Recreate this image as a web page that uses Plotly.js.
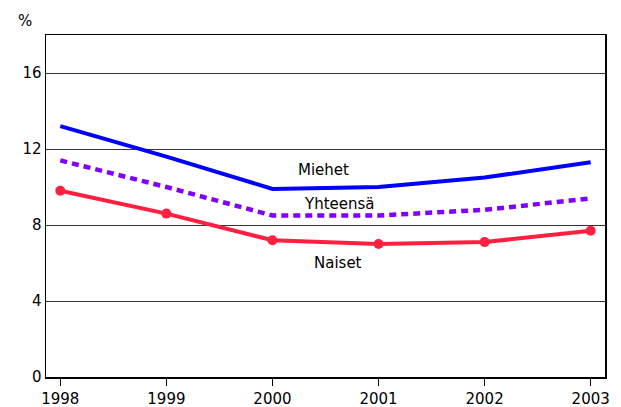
<!DOCTYPE html>
<html>
<head>
<meta charset="utf-8">
<script src="https://cdn.plot.ly/plotly-3.0.1.min.js"></script>
<style>html,body{margin:0;padding:0;background:#fff;}#chart{width:621px;height:407px;}</style>
</head>
<body>
<div id="chart"></div>
<script>
const years = [1998, 1999, 2000, 2001, 2002, 2003];
const miehet = [13.2, 11.6, 9.9, 10.0, 10.5, 11.3];
const yhteensa = [11.4, 10.0, 8.5, 8.5, 8.8, 9.4];
const naiset = [9.8, 8.6, 7.2, 7.0, 7.1, 7.7];
const yTicks = [0, 4, 8, 12, 16];
const seriesLabels = ['Miehet', 'Yhteensä', 'Naiset'];
const unitLabel = '%';

const FONT = 'DejaVu Sans, Liberation Sans, Arial, sans-serif';

const traces = [
  {x: years, y: miehet, mode: 'lines', line: {color: '#0000ff', width: 4}, name: seriesLabels[0]},
  {x: years, y: yhteensa, mode: 'lines', line: {color: '#7f00ff', width: 4.5, dash: '7px,5px'}, name: seriesLabels[1]},
  {x: years, y: naiset, mode: 'lines+markers', line: {color: '#ff2040', width: 4}, marker: {color: '#ff2040', size: 10}, name: seriesLabels[2]}
];

const layout = {
  width: 621, height: 407,
  margin: {l: 46, r: 16, t: 35, b: 30, pad: 0},
  paper_bgcolor: '#fff', plot_bgcolor: '#fff',
  showlegend: false,
  font: {family: FONT, size: 15, color: '#000'},
  xaxis: {
    range: [1997.865, 2003.135], tickvals: years, ticktext: years.map(String),
    showgrid: false, zeroline: false, showline: true, mirror: true, linecolor: '#000', linewidth: 1.5,
    ticks: 'outside', ticklen: 7, tickwidth: 1, tickcolor: '#000',
    tickfont: {family: FONT, size: 15, color: '#000'}
  },
  yaxis: {
    range: [0, 18], tickvals: yTicks, ticktext: yTicks.map(String),
    showgrid: true, gridcolor: '#333', gridwidth: 1, zeroline: false,
    showline: true, mirror: true, linecolor: '#000', linewidth: 1.5,
    ticks: '', tickfont: {family: FONT, size: 15, color: '#000'}
  },
  annotations: [
    {xref: 'paper', yref: 'paper', x: -0.0376, y: 1.041, text: unitLabel, showarrow: false, xanchor: 'center', yanchor: 'middle', font: {family: FONT, size: 15}},
    {xref: 'x', yref: 'y', x: 2000.48, y: 10.9, text: seriesLabels[0], showarrow: false, font: {family: FONT, size: 15}},
    {xref: 'x', yref: 'y', x: 2000.63, y: 9.1, text: seriesLabels[1], showarrow: false, font: {family: FONT, size: 15}},
    {xref: 'x', yref: 'y', x: 2000.62, y: 6.0, text: seriesLabels[2], showarrow: false, font: {family: FONT, size: 15}}
  ]
};

Plotly.newPlot('chart', traces, layout, {staticPlot: true, displayModeBar: false});
</script>
</body>
</html>
